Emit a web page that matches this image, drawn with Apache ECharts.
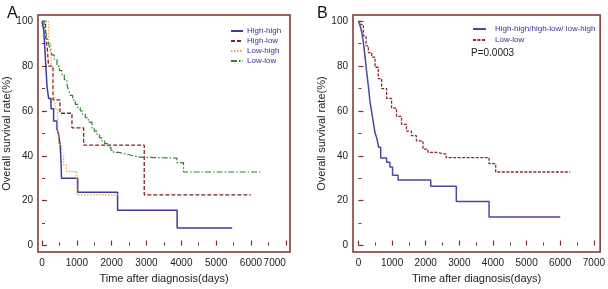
<!DOCTYPE html>
<html>
<head>
<meta charset="utf-8">
<script src="https://cdn.jsdelivr.net/npm/echarts@6/dist/echarts.min.js"></script>
<style>
  html, body { margin: 0; padding: 0; background: #fff; }
  #main { width: 608px; height: 289px; }
</style>
</head>
<body>
<div id="main"></div>
<script>
// tick labels
const timeTicks = [0, 1000, 2000, 3000, 4000, 5000, 6000, 7000];
const timeMinorTicks = [500, 1500, 2500, 3500, 4500, 5500, 6500];
const rateTicks = [0, 20, 40, 60, 80, 100];
const rateMinorTicks = [10, 30, 50, 70, 90];

// panel A: [days, survival %]
const aHighHigh = [[0, 100], [50, 96], [80, 88], [110, 80], [143, 71], [190, 65.6], [258, 61], [333, 55.6],
  [430, 52], [476, 49.6], [520, 45], [545, 38], [560, 30], [1025, 23.8], [2170, 15.8], [3880, 7.8], [5460, 7.8]];
const aHighLow = [[0, 100], [100, 94], [150, 88], [190, 80], [315, 65], [515, 59], [860, 52.5],
  [1195, 44.8], [2935, 22.6], [5996, 22.6]];
const aLowHigh = [[0, 100], [190, 90], [260, 80], [330, 69], [380, 61], [450, 52], [480, 45], [560, 40],
  [620, 36], [700, 33], [1000, 22.6], [2240, 22.6]];
const aLowLow = [[0, 100], [60, 98], [95, 96], [140, 93], [189, 90], [240, 87], [287, 85], [350, 83], [430, 80],
  [500, 78], [574, 76], [640, 74], [717, 71.5], [770, 69], [812, 67], [880, 65], [955, 63], [1030, 61.5],
  [1099, 60], [1170, 58.5], [1242, 57], [1330, 55], [1435, 52.5], [1500, 51], [1578, 49.6], [1650, 48],
  [1721, 46.7], [1800, 45.5], [1911, 43.8], [1980, 42.5], [2054, 41.6], [2200, 41], [2341, 40.5],
  [2500, 40], [2628, 39.4], [2820, 39], [3873, 37], [4063, 32.8], [6263, 32.8]];

// panel B
const bHighAny = [[0, 100], [50, 98], [100, 95], [147, 90.5], [198, 84], [248, 77], [295, 71], [345, 64],
  [395, 59.5], [442, 55], [492, 50.3], [543, 48], [572, 46], [600, 43.8], [661, 39], [838, 37.2],
  [935, 35], [1014, 31.4], [1180, 29.2], [2150, 26.5], [2910, 19.7], [3884, 12.8], [6000, 12.8]];
const bLowLow = [[0, 100], [71, 98.5], [147, 93.5], [227, 89], [295, 86], [395, 84], [492, 79.5], [590, 74.4],
  [690, 70], [838, 65.6], [985, 61.3], [1132, 57.6], [1280, 54], [1427, 51], [1575, 49], [1722, 46.7],
  [1917, 43], [2064, 41.6], [2312, 40.8], [2607, 39.2], [3884, 36.5], [4081, 32.8], [6293, 32.8]];

const frameColor = '#7d2f2f';
const font = 'Liberation Sans, Arial, sans-serif';
const plain = function (v) { return String(v); };

function mainX(grid, min, max, lastAlign) {
  return {
    type: 'value', gridIndex: grid, min: min, max: max, position: 'bottom',
    name: 'Time after diagnosis(days)', nameLocation: 'middle', nameGap: 19,
    nameTextStyle: { fontSize: 11, color: '#222', fontFamily: font },
    axisLine: { show: false },
    splitLine: { show: false },
    axisTick: { show: true, inside: true, length: 5, customValues: timeTicks,
      lineStyle: { color: frameColor, width: 1.2 } },
    axisLabel: { customValues: timeTicks, formatter: plain, margin: 6, fontSize: 10, color: '#222',
      fontFamily: font, alignMaxLabel: lastAlign }
  };
}
function minorX(grid, min, max) {
  return {
    type: 'value', gridIndex: grid, min: min, max: max, position: 'bottom',
    axisLine: { show: false }, splitLine: { show: false }, axisLabel: { show: false },
    axisTick: { show: true, inside: true, length: 3, customValues: timeMinorTicks,
      lineStyle: { color: frameColor, width: 1 } }
  };
}
function mainY(grid, gap) {
  return {
    type: 'value', gridIndex: grid, min: -2.9, max: 102.8, position: 'left',
    name: 'Overall survival rate(%)', nameLocation: 'middle', nameGap: gap, nameRotate: 90,
    nameTextStyle: { fontSize: 11, color: '#222', fontFamily: font },
    axisLine: { show: false }, splitLine: { show: false },
    axisTick: { show: true, inside: true, length: 5, customValues: rateTicks,
      lineStyle: { color: frameColor, width: 1.2 } },
    axisLabel: { customValues: rateTicks, formatter: plain, margin: 5, fontSize: 10, color: '#222', fontFamily: font }
  };
}
function minorY(grid) {
  return {
    type: 'value', gridIndex: grid, min: -2.9, max: 102.8, position: 'left',
    axisLine: { show: false }, splitLine: { show: false }, axisLabel: { show: false },
    axisTick: { show: true, inside: true, length: 3, customValues: rateMinorTicks,
      lineStyle: { color: frameColor, width: 1 } }
  };
}
function km(name, data, xi, color, type, width) {
  return {
    name: name, type: 'line', step: 'end', data: data, xAxisIndex: xi, yAxisIndex: xi,
    symbol: 'none', silent: true, z: 3,
    lineStyle: { color: color, type: type, width: width },
    itemStyle: { color: color }
  };
}

const chart = echarts.init(document.getElementById('main'));
chart.setOption({
  animation: false,
  backgroundColor: '#fff',
  textStyle: { fontFamily: font },
  title: [
    { text: 'A', left: 2, top: 1, textStyle: { fontSize: 16, fontWeight: 'normal', color: '#111' } },
    { text: 'B', left: 312, top: 1, textStyle: { fontSize: 16, fontWeight: 'normal', color: '#111' } },
    { text: 'P=0.0003', left: 466, top: 43, textStyle: { fontSize: 10, fontWeight: 'normal', color: '#222' } }
  ],
  grid: [
    { left: 38, top: 15, width: 252, height: 242, show: true, borderColor: frameColor, borderWidth: 1.5,
      backgroundColor: 'transparent' },
    { left: 353, top: 15, width: 248.5, height: 242, show: true, borderColor: frameColor, borderWidth: 1.5,
      backgroundColor: 'transparent' }
  ],
  xAxis: [mainX(0, -115, 7120, 'right'), mainX(1, -162, 7186, null), minorX(0, -115, 7120), minorX(1, -162, 7186)],
  yAxis: [mainY(0, 20), mainY(1, 24), minorY(0), minorY(1)],
  legend: [
    { data: ['High-high', 'High-low', 'Low-high', 'Low-low'], orient: 'vertical', left: 225, top: 22,
      itemWidth: 12, itemHeight: 6, itemGap: 2, selectedMode: false,
      itemStyle: { opacity: 0 },
      textStyle: { fontSize: 8, color: '#34348a', padding: [0, 0, 0, -1] } },
    { data: ['High-high/high-low/ low-high', 'Low-low (B)'], orient: 'vertical', left: 467, top: 20,
      itemWidth: 13, itemHeight: 6, itemGap: 3, selectedMode: false,
      itemStyle: { opacity: 0 },
      formatter: function (n) { return n.replace(' (B)', ''); },
      textStyle: { fontSize: 8, color: '#34348a', padding: [0, 0, 0, 4] } }
  ],
  series: [
    km('High-high', aHighHigh, 0, '#3c3c9c', 'solid', 1.5),
    km('High-low', aHighLow, 0, '#7f2424', [4, 2], 1.3),
    km('Low-high', aLowHigh, 0, '#f0a050', [1.5, 1.5], 1.2),
    km('Low-low', aLowLow, 0, '#2f7f2f', [6, 2, 1.5, 2], 1.2),
    km('High-high/high-low/ low-high', bHighAny, 1, '#4a4a9c', 'solid', 1.5),
    km('Low-low (B)', bLowLow, 1, '#8a2a2a', [3, 1.5], 1.3)
  ]
});
</script>
</body>
</html>
